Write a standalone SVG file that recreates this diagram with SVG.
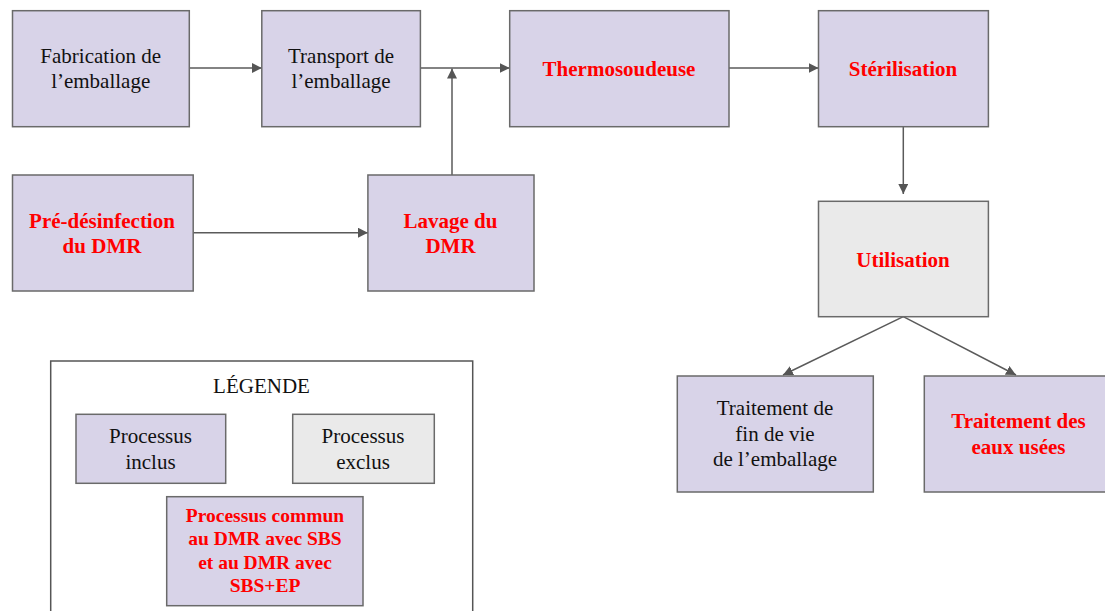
<svg xmlns="http://www.w3.org/2000/svg" width="1105" height="611" viewBox="0 0 1105 611">
<defs>
<style>
.inc{fill:#D8D3E8;stroke:#6A6A6A;stroke-width:1.5}
.exc{fill:#EAEAEA;stroke:#6A6A6A;stroke-width:1.5}
.t{font-family:"Liberation Serif","Times New Roman",serif;font-size:21px;fill:#111;text-anchor:middle}
.b{font-family:"Liberation Serif","Times New Roman",serif;font-size:21px;font-weight:bold;fill:#FF0000;text-anchor:middle}
.bs{font-family:"Liberation Serif","Times New Roman",serif;font-size:19.5px;font-weight:bold;fill:#FF0000;text-anchor:middle}
.c{fill:none;stroke:#5A5A5A;stroke-width:1.5}
</style>
<marker id="ah" viewBox="0 0 10 10" refX="10" refY="5" markerWidth="10" markerHeight="10" markerUnits="userSpaceOnUse" orient="auto">
<path d="M0,0 L10,5 L0,10 z" fill="#555"/>
</marker>
</defs>
<rect width="1105" height="611" fill="#fff"/>
<g id="connectors">
<line class="c" x1="189.3" y1="68" x2="261.8" y2="68" marker-end="url(#ah)"/>
<line class="c" x1="420.4" y1="68" x2="509.7" y2="68" marker-end="url(#ah)"/>
<line class="c" x1="729" y1="68" x2="818.5" y2="68" marker-end="url(#ah)"/>
<line class="c" x1="452" y1="175" x2="452" y2="68.5" marker-end="url(#ah)"/>
<line class="c" x1="193.2" y1="232.7" x2="367.9" y2="232.7" marker-end="url(#ah)"/>
<line class="c" x1="903.3" y1="126.7" x2="903.3" y2="194" marker-end="url(#ah)"/>
<line class="c" x1="903.3" y1="316.7" x2="783" y2="375" marker-end="url(#ah)"/>
<line class="c" x1="903.3" y1="316.7" x2="1016" y2="375" marker-end="url(#ah)"/>
</g>
<g id="fabrication">
<rect class="inc" x="12.5" y="10.7" width="176.8" height="116"/>
<text class="t" x="100.7" y="62.7">Fabrication de</text>
<text class="t" x="100.7" y="88.3">l’emballage</text>
</g>
<g id="transport">
<rect class="inc" x="261.8" y="10.7" width="158.6" height="116"/>
<text class="t" x="341" y="62.7">Transport de</text>
<text class="t" x="341" y="88.3">l’emballage</text>
</g>
<g id="thermosoudeuse">
<rect class="inc" x="509.7" y="10.7" width="219.3" height="116"/>
<text class="b" x="619" y="76">Thermosoudeuse</text>
</g>
<g id="sterilisation">
<rect class="inc" x="818.5" y="10.7" width="169.9" height="116"/>
<text class="b" x="903" y="76">Stérilisation</text>
</g>
<g id="utilisation">
<rect class="exc" x="818.5" y="201.3" width="169.9" height="115.4"/>
<text class="b" x="903" y="266.7">Utilisation</text>
</g>
<g id="predesinfection">
<rect class="inc" x="12.5" y="175" width="180.7" height="116"/>
<text class="b" x="102" y="227.7">Pré-désinfection</text>
<text class="b" x="102" y="253.3">du DMR</text>
</g>
<g id="lavage">
<rect class="inc" x="367.9" y="175" width="166.1" height="116"/>
<text class="b" x="450.5" y="227.7">Lavage du</text>
<text class="b" x="450.5" y="253.3">DMR</text>
</g>
<g id="findevie">
<rect class="inc" x="677.3" y="376" width="196" height="116"/>
<text class="t" x="775" y="415">Traitement de</text>
<text class="t" x="775" y="440.5">fin de vie</text>
<text class="t" x="775" y="465.7">de l’emballage</text>
</g>
<g id="eauxusees">
<rect class="inc" x="924.3" y="376" width="190" height="116"/>
<text class="b" x="1018.5" y="428.3">Traitement des</text>
<text class="b" x="1018.5" y="454">eaux usées</text>
</g>
<g id="legende">
<rect x="50.7" y="361" width="422" height="262" fill="#fff" stroke="#555" stroke-width="1.5"/>
<text class="t" x="261.5" y="393.3">LÉGENDE</text>
<g id="leg-inclus">
<rect class="inc" x="76" y="414.3" width="149.7" height="69"/>
<text class="t" x="150.5" y="443.3">Processus</text>
<text class="t" x="150.5" y="469">inclus</text>
</g>
<g id="leg-exclus">
<rect class="exc" x="292.7" y="414.3" width="141.6" height="69"/>
<text class="t" x="363" y="443.3">Processus</text>
<text class="t" x="363" y="469">exclus</text>
</g>
<g id="leg-commun">
<rect class="inc" x="166.7" y="496.7" width="196.3" height="109"/>
<text class="bs" x="265" y="522.3">Processus commun</text>
<text class="bs" x="265" y="545.3">au DMR avec SBS</text>
<text class="bs" x="265" y="568.5">et au DMR avec</text>
<text class="bs" x="265" y="591.7">SBS+EP</text>
</g>
</g>
</svg>
